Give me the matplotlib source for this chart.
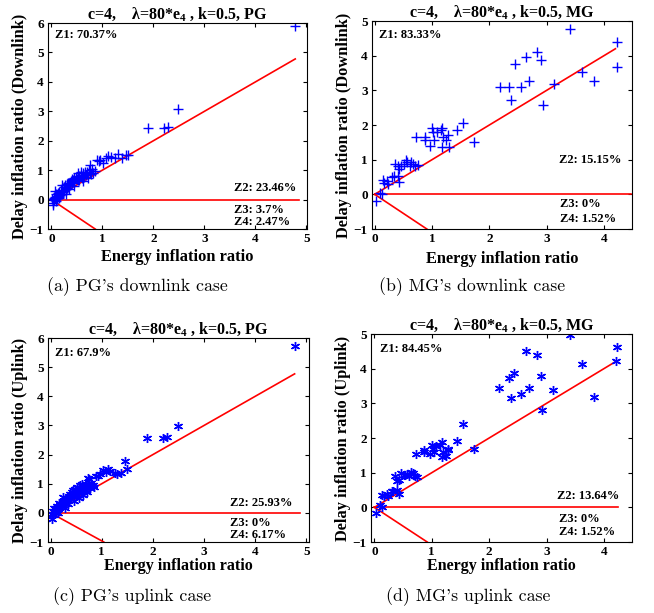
import matplotlib
matplotlib.use('Agg')
import matplotlib.pyplot as plt

plt.rcParams['font.family'] = 'Liberation Serif'
plt.rcParams['font.weight'] = 'bold'
plt.rcParams['mathtext.fontset'] = 'custom'
plt.rcParams['mathtext.rm'] = 'Liberation Serif'
plt.rcParams['mathtext.bf'] = 'Liberation Serif:bold'
plt.rcParams['mathtext.it'] = 'Liberation Serif:italic'

# PG: same energy ratio in downlink and uplink
pg_energy = [4.77, 2.49, 1.89, 2.20, 2.28, 1.46, 1.30, 1.12, 1.08, 1.02, 0.89, 0.96, 1.25, 0.76, 0.73,
             1.38, 1.17, 1.50, 0.93,
             0.80, 0.82, 0.78, 0.70, 0.68, 0.65, 0.62, 0.60, 0.58, 0.55, 0.52, 0.50, 0.48, 0.45,
             0.44, 0.42, 0.40, 0.38, 0.36, 0.35, 0.33, 0.31, 0.30, 0.28, 0.27, 0.25, 0.24, 0.22,
             0.21, 0.20, 0.18, 0.17, 0.16, 0.15, 0.14, 0.12, 0.11, 0.10, 0.09, 0.08, 0.07, 0.06,
             0.05, 0.04, 0.03, 0.02, 0.10, 0.15, 0.28, 0.35, 0.45, 0.55, 0.63, 0.72, 0.85, 0.58,
             0.40, 0.66, 0.75, 0.52, 0.32]
pg_delay_down = [5.91, 3.09, 2.42, 2.44, 2.47, 1.50, 1.56, 1.48, 1.42, 1.25, 1.34, 1.36, 1.42, 1.19, 0.99,
                 1.40, 1.45, 1.52, 1.32,
                 1.05, 0.92, 0.88, 0.95, 0.85, 0.78, 0.90, 0.72, 0.85, 0.80, 0.92, 0.70, 0.78, 0.60,
                 0.72, 0.65, 0.55, 0.62, 0.50, 0.58, 0.45, 0.52, 0.40, 0.35, 0.48, 0.30, 0.42, 0.25,
                 0.50, 0.20, 0.32, 0.15, 0.25, 0.10, 0.22, 0.12, 0.05, 0.18, 0.02, 0.10, 0.28, -0.02,
                 0.05, -0.10, -0.18, 0.02, -0.05, 0.05, 0.20, 0.35, 0.45, 0.65, 0.62, 0.75, 0.98, 0.95,
                 0.70, 0.95, 0.92, 0.68, 0.55]
pg_delay_up = [5.72, 2.99, 2.57, 2.57, 2.59, 1.77, 1.34, 1.51, 1.40, 1.48, 1.28, 1.33, 1.38, 1.17, 1.20,
               1.36, 1.45, 1.50, 1.25,
               1.02, 0.95, 0.85, 0.98, 0.80, 0.90, 1.00, 0.70, 0.95, 0.75, 0.88, 0.62, 0.82, 0.55,
               0.78, 0.70, 0.48, 0.65, 0.58, 0.45, 0.52, 0.40, 0.48, 0.35, 0.42, 0.38, 0.55, 0.30,
               0.32, 0.22, 0.28, 0.18, 0.35, 0.12, 0.20, 0.25, 0.08, 0.15, 0.05, 0.12, 0.18, 0.02,
               0.08, -0.08, -0.22, -0.05, 0.00, 0.00, 0.15, 0.30, 0.40, 0.50, 0.60, 0.70, 0.88, 0.80,
               0.60, 0.92, 0.98, 0.62, 0.50]

# MG: same energy ratio in downlink and uplink
mg_energy = [3.41, 4.23, 4.22, 3.62, 3.83, 3.12, 2.84, 2.90, 2.64, 2.44, 2.69, 2.56, 2.34, 2.18, 2.38,
             2.93, 1.74, 1.54, 1.44, 1.29, 1.28, 1.25, 1.18, 1.15, 1.18, 1.08, 1.00, 1.02, 1.04, 0.97,
             1.19, 0.72, 0.87, 0.87, 0.70, 0.63, 0.61, 0.56, 0.52, 0.46, 0.40, 0.36, 0.42, 0.33, 0.40,
             0.42, 0.22, 0.14, 0.17, 0.24, 0.10, 0.03, 0.67, 0.54, 0.13, 0.30, 0.75]
mg_delay_down = [4.77, 4.39, 3.67, 3.52, 3.26, 3.18, 4.11, 3.88, 3.95, 3.76, 3.26, 3.11, 3.11, 3.11, 2.71,
                 2.58, 1.52, 2.05, 1.86, 1.37, 1.71, 1.57, 1.92, 1.86, 1.37, 1.81, 1.90, 1.81, 1.57, 1.40,
                 1.66, 1.66, 1.66, 1.57, 0.82, 0.92, 0.82, 0.92, 0.87, 0.82, 0.82, 0.87, 0.72, 0.52, 0.52,
                 0.36, 0.39, 0.41, 0.33, 0.31, 0.05, -0.19, 0.87, 0.99, 0.02, 0.50, 0.85]
mg_delay_up = [4.98, 4.63, 4.21, 4.14, 3.18, 3.39, 4.39, 3.78, 4.50, 3.87, 3.45, 3.26, 3.73, 3.44, 3.15,
               2.82, 1.67, 2.41, 1.91, 1.66, 1.69, 1.49, 1.88, 1.80, 1.45, 1.78, 1.80, 1.69, 1.60, 1.54,
               1.59, 1.54, 1.64, 1.60, 0.89, 1.01, 0.90, 0.96, 0.94, 0.98, 0.77, 0.89, 0.80, 0.48, 0.50,
               0.39, 0.39, 0.36, 0.34, 0.33, 0.07, -0.15, 1.00, 0.92, 0.02, 0.46, 0.87]

# zone percentages
zones_a = ['Z1: 70.37%', 'Z2: 23.46%', 'Z3: 3.7%', 'Z4: 2.47%']
zones_b = ['Z1: 83.33%', 'Z2: 15.15%', 'Z3: 0%', 'Z4: 1.52%']
zones_c = ['Z1: 67.9%', 'Z2: 25.93%', 'Z3: 0%', 'Z4: 6.17%']
zones_d = ['Z1: 84.45%', 'Z2: 13.64%', 'Z3: 0%', 'Z4: 1.52%']

captions = ["(a) PG's downlink case", "(b) MG's downlink case",
            "(c) PG's uplink case", "(d) MG's uplink case"]

title_pg = 'c=4,    \u03bb=80*$\\mathbf{e}_{\\mathbf{4}}$ , k=0.5, PG'
title_mg = 'c=4,    \u03bb=80*$\\mathbf{e}_{\\mathbf{4}}$ , k=0.5, MG'


def panel(rect, x, y, marker, title, ylabel, zones, xlim, ymax, ends, zpos, xlpad, xlsize):
    ax = fig.add_axes(rect)
    diag, horiz, low = ends
    ax.plot([0, diag], [0, diag], color='red', lw=1.2)
    ax.plot([0, horiz], [0, 0], color='red', lw=1.2)
    ax.plot([0, low], [0, -1], color='red', lw=1.2)
    ax.plot(x, y, linestyle='none', marker=marker, color='blue', ms=6.5, mew=1.0)
    ax.set_xlim(xlim)
    ax.set_ylim(-1, ymax)
    ax.set_xticks(range(0, int(xlim[1] + 0.1) + 1))
    ax.set_yticks(range(-1, ymax + 1))
    ax.tick_params(direction='in', top=True, right=True, labelsize=9.5, length=3, pad=3)
    ax.set_title(title, fontsize=11.5, fontweight='bold', pad=3)
    ax.set_ylabel(ylabel, fontsize=11.8, fontweight='bold', labelpad=1)
    ax.set_xlabel('Energy inflation ratio', fontsize=xlsize, fontweight='bold', labelpad=xlpad)
    for txt, (tx, ty) in zip(zones, zpos):
        ax.text(tx, ty, txt, fontsize=9, fontweight='bold', va='center')
    return ax


fig = plt.figure(figsize=(6.54, 6.13), dpi=100)

panel([0.0734, 0.6264, 0.396, 0.336], pg_energy, pg_delay_down, '+', title_pg,
      'Delay inflation ratio (Downlink)', zones_a, (-0.065, 5.01), 6, (4.78, 4.85, 0.86),
      [(0.08, 5.6), (3.57, 0.4), (3.57, -0.34), (3.57, -0.77)], 3, 11.8)
panel([0.5688, 0.6264, 0.3976, 0.3393], mg_energy, mg_delay_down, '+', title_mg,
      'Delay inflation ratio (Downlink)', zones_b, (-0.047, 4.49), 5, (4.2, 4.48, 0.91),
      [(0.07, 4.61), (3.21, 1.0), (3.24, -0.27), (3.24, -0.71)], 4, 11.8)
panel([0.0734, 0.1158, 0.399, 0.3328], pg_energy, pg_delay_up, (6, 2, 0), title_pg,
      'Delay inflation ratio (Uplink)', zones_c, (-0.05, 5.05), 6, (4.77, 4.87, 1.04),
      [(0.08, 5.49), (3.5, 0.34), (3.5, -0.34), (3.5, -0.76)], 0, 11.5)
panel([0.5673, 0.1158, 0.399, 0.3393], mg_energy, mg_delay_up, (6, 2, 0), title_mg,
      'Delay inflation ratio (Uplink)', zones_d, (-0.06, 4.49), 5, (4.22, 4.24, 0.92),
      [(0.09, 4.58), (3.19, 0.32), (3.22, -0.34), (3.22, -0.70)], 0, 11.5)

# legendas das figuras
cap_pos = [(137, 287), (472, 287), (132, 597), (468, 597)]
for cap, (cx, cy) in zip(captions, cap_pos):
    fig.text(cx / 654, 1 - cy / 613, cap, fontsize=12.8, fontfamily='cmr10',
             fontweight='normal', ha='center', va='center')

fig.savefig('out.png', dpi=100)
